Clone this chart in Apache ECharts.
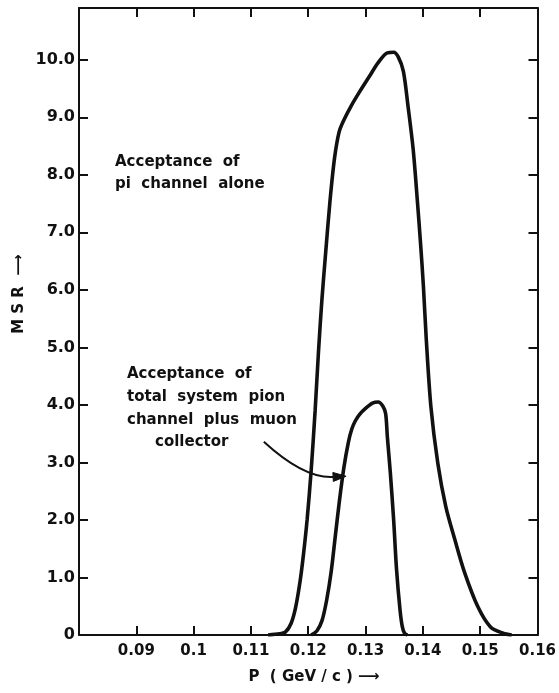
<!DOCTYPE html>
<html>
<head>
<meta charset="utf-8">
<script src="https://cdn.jsdelivr.net/npm/echarts@6/dist/echarts.min.js"></script>
<style>
html,body{margin:0;padding:0;background:#fff;}
#c{width:559px;height:693px;}
</style>
</head>
<body>
<div id="c"></div>
<script>
// ---- data ----
const outerP   = [0.1130, 0.1150, 0.1160, 0.1170, 0.1178, 0.1186, 0.1192, 0.1198, 0.1205, 0.1212, 0.1218, 0.1224, 0.1230, 0.1238, 0.1246, 0.1254, 0.1262, 0.1275, 0.1290, 0.1306, 0.1322, 0.1338, 0.1349, 0.1357, 0.1366, 0.1374, 0.1383, 0.1390, 0.1396, 0.1401, 0.1406, 0.1414, 0.1426, 0.1440, 0.1456, 0.1473, 0.1496, 0.1518, 0.1540, 0.1555];
const outerMSR = [0.00, 0.02, 0.05, 0.20, 0.48, 0.95, 1.43, 2.00, 2.85, 3.90, 4.95, 5.85, 6.60, 7.55, 8.30, 8.75, 8.95, 9.20, 9.45, 9.70, 9.95, 10.12, 10.13, 10.05, 9.80, 9.20, 8.45, 7.60, 6.80, 6.05, 5.13, 3.97, 2.99, 2.23, 1.65, 1.08, 0.49, 0.14, 0.03, 0.00];
const innerP   = [0.1205, 0.1215, 0.1224, 0.1232, 0.1240, 0.1247, 0.1254, 0.1262, 0.1270, 0.1276, 0.1282, 0.1290, 0.1300, 0.1312, 0.1322, 0.1330, 0.1335, 0.1338, 0.1343, 0.1349, 0.1354, 0.1360, 0.1364, 0.1368, 0.1373];
const innerMSR = [0.00, 0.07, 0.25, 0.60, 1.10, 1.70, 2.30, 2.90, 3.35, 3.58, 3.72, 3.84, 3.94, 4.03, 4.05, 3.98, 3.85, 3.45, 2.85, 2.00, 1.15, 0.45, 0.15, 0.03, 0.00];
const xTickValues = [0.09, 0.10, 0.11, 0.12, 0.13, 0.14, 0.15, 0.16];
const xTickLabels = ['0.09', '0.1', '0.11', '0.12', '0.13', '0.14', '0.15', '0.16'];
const yTickValues = [0, 1, 2, 3, 4, 5, 6, 7, 8, 9, 10];
const yTickLabels = ['0', '1.0', '2.0', '3.0', '4.0', '5.0', '6.0', '7.0', '8.0', '9.0', '10.0'];
const note1 = ['Acceptance  of', 'pi  channel  alone'];
const note2 = ['Acceptance  of', 'total  system  pion', 'channel  plus  muon', 'collector'];
const xName = 'P  ( GeV / c ) ⟶';
const yName = 'M S R  ⟶';
// arrow (annotation) in data coordinates: start, control, tip
const arrowPts = [[0.11225, 3.36], [0.11925, 2.72], [0.12660, 2.76]];

const FONT = 'DejaVu Sans';
const INK = '#111';

function labelFrom(values, labels) {
  return function (v) {
    for (let i = 0; i < values.length; i++) {
      if (Math.abs(values[i] - v) < 1e-6) return labels[i];
    }
    return '';
  };
}

const chart = echarts.init(document.getElementById('c'), null, {renderer: 'canvas'});

const axisLineStyle = {show: true, onZero: false, lineStyle: {color: INK, width: 2}};
const tickStyle = (vals) => ({show: true, inside: true, length: 9, customValues: vals, lineStyle: {color: INK, width: 2}});

chart.setOption({
  animation: false,
  backgroundColor: '#fff',
  grid: {left: 79, right: 16, top: 8, bottom: 58, containLabel: false},
  xAxis: [
    {
      type: 'value', min: 0.08, max: 0.16, interval: 0.01, position: 'bottom',
      axisLine: axisLineStyle, axisTick: tickStyle(xTickValues.slice(0, -1)), splitLine: {show: false},
      axisLabel: {show: true, margin: 9, color: INK, fontFamily: FONT, fontSize: 15, fontWeight: 'bold',
        customValues: xTickValues, formatter: labelFrom(xTickValues, xTickLabels)}
    },
    {
      type: 'value', min: 0.08, max: 0.16, interval: 0.01, position: 'top',
      axisLine: axisLineStyle, axisTick: tickStyle(xTickValues.slice(0, -1)), splitLine: {show: false},
      axisLabel: {show: false}
    }
  ],
  yAxis: [
    {
      type: 'value', min: 0, max: 10.9, interval: 1, position: 'left',
      axisLine: axisLineStyle, axisTick: tickStyle(yTickValues.slice(1)), splitLine: {show: false},
      axisLabel: {show: true, margin: 4, color: INK, fontFamily: FONT, fontSize: 16, fontWeight: 'bold',
        customValues: yTickValues, formatter: labelFrom(yTickValues, yTickLabels)}
    },
    {
      type: 'value', min: 0, max: 10.9, interval: 1, position: 'right',
      axisLine: axisLineStyle, axisTick: tickStyle(yTickValues.slice(1)), splitLine: {show: false},
      axisLabel: {show: false}
    }
  ],
  series: [
    {
      type: 'line', name: 'pi channel alone', xAxisIndex: 0, yAxisIndex: 0,
      data: outerP.map((p, i) => [p, outerMSR[i]]),
      smooth: 0.3, showSymbol: false, symbol: 'none',
      lineStyle: {color: INK, width: 3.6}
    },
    {
      type: 'line', name: 'total system', xAxisIndex: 0, yAxisIndex: 0,
      data: innerP.map((p, i) => [p, innerMSR[i]]),
      smooth: 0.3, showSymbol: false, symbol: 'none',
      lineStyle: {color: INK, width: 3.6}
    }
  ]
});

// annotations
const toPx = (pt) => chart.convertToPixel({xAxisIndex: 0, yAxisIndex: 0}, pt);
const a0 = toPx(arrowPts[0]), a1 = toPx(arrowPts[1]), a2 = toPx(arrowPts[2]);
const ang = Math.atan2(a2[1] - a1[1], a2[0] - a1[0]);
const hl = 13, hw = 4.5;
const base = [a2[0] - hl * Math.cos(ang), a2[1] - hl * Math.sin(ang)];
const head = [
  a2,
  [base[0] + hw * Math.sin(ang), base[1] - hw * Math.cos(ang)],
  [base[0] - hw * Math.sin(ang), base[1] + hw * Math.cos(ang)]
];

const txt = (x, y, s) => ({
  type: 'text', x: x, y: y,
  style: {text: s, fill: INK, font: 'bold 15px "' + FONT + '"', textVerticalAlign: 'middle', verticalAlign: 'middle'}
});

const graphics = [
  txt(115, 162, note1[0]),
  txt(115, 184, note1[1]),
  txt(127, 374, note2[0]),
  txt(127, 397, note2[1]),
  txt(127, 420, note2[2]),
  txt(155, 442, note2[3]),
  {
    type: 'text', x: 314, y: 677,
    style: {text: xName, fill: INK, font: 'bold 15px "' + FONT + '"', align: 'center', textAlign: 'center', verticalAlign: 'middle', textVerticalAlign: 'middle'}
  },
  {
    type: 'text', x: 19, y: 294, rotation: Math.PI / 2,
    style: {text: yName, fill: INK, font: 'bold 15px "' + FONT + '"', align: 'center', textAlign: 'center', verticalAlign: 'middle', textVerticalAlign: 'middle'}
  },
  {
    type: 'bezierCurve',
    shape: {x1: a0[0], y1: a0[1], cpx1: a1[0], cpy1: a1[1], x2: base[0], y2: base[1]},
    style: {stroke: INK, lineWidth: 2, fill: null}
  },
  {
    type: 'polygon', shape: {points: head}, style: {fill: INK, stroke: INK, lineWidth: 1}
  }
];
chart.setOption({graphic: graphics});
</script>
</body>
</html>
